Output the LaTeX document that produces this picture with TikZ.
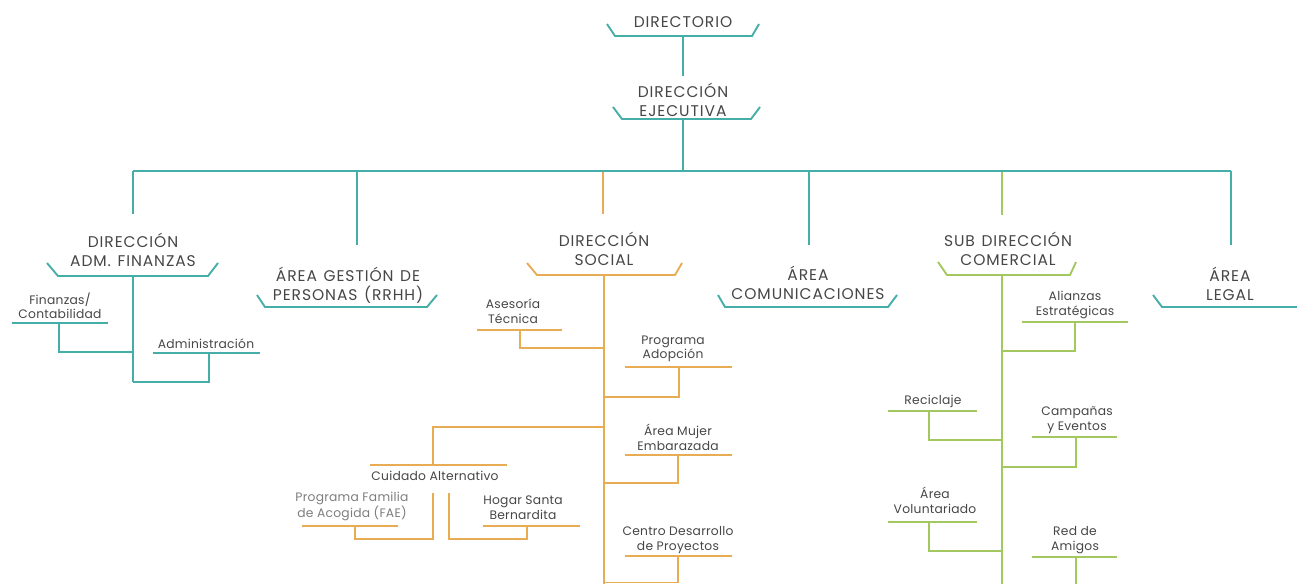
\documentclass[tikz,border=0pt]{standalone}
\usepackage{fontspec}
\setmainfont{Poppins}
\newfontfamily\bigf[LetterSpace=6,WordSpace=1.3]{Poppins}
\newfontfamily\smallf[LetterSpace=2]{Poppins}
\definecolor{tealc}{RGB}{70,174,169}
\definecolor{orangec}{RGB}{232,172,84}
\definecolor{greenc}{RGB}{163,200,96}
\definecolor{txt}{RGB}{70,70,70}
\definecolor{faegray}{RGB}{125,125,125}
\tikzset{
  tl/.style={draw=tealc, line width=1.9pt},
  ol/.style={draw=orangec, line width=1.9pt},
  gl/.style={draw=greenc, line width=1.9pt},
  bigtxt/.style={align=center, inner sep=0pt, text=txt,
    font=\bigf\fontsize{15.5}{19}\selectfont,
    execute at begin node={\rule{0pt}{14.5pt}},
    execute at end node={\rule[-3.6pt]{0pt}{3.6pt}}},
  smalltxt/.style={align=center, inner sep=0pt, text=txt,
    font=\smallf\fontsize{12.3}{14.5}\selectfont,
    execute at begin node={\rule{0pt}{10.5pt}},
    execute at end node={\rule[-3pt]{0pt}{3pt}}},
}
\begin{document}
\begin{tikzpicture}[x=1pt,y=-1pt]
\useasboundingbox (0,0) rectangle (1297,583);
\clip (0,0) rectangle (1297,583);

% ---------- texts ----------
\node[bigtxt] (dir) at (683,22) {DIRECTORIO};
\node[bigtxt] (ej) at (683,101.5) {DIRECCIÓN\\EJECUTIVA};
\node[bigtxt] (adm) at (133,251.5) {DIRECCIÓN\\ADM. FINANZAS};
\node[bigtxt] (rrhh) at (348,286) {ÁREA GESTIÓN DE\\PERSONAS (RRHH)};
\node[bigtxt] (soc) at (604,251) {DIRECCIÓN\\SOCIAL};
\node[bigtxt] (com) at (808,284.5) {ÁREA\\COMUNICACIONES};
\node[bigtxt] (sub) at (1008,251) {SUB DIRECCIÓN\\COMERCIAL};
\node[bigtxt] (leg) at (1230,286) {ÁREA\\LEGAL};

\node[smalltxt] (fin) at (60,307) {Finanzas/\\Contabilidad};
\node[smalltxt] (admi) at (206,345) {Administración};
\node[smalltxt] (ases) at (513,312.5) {Asesoría\\Técnica};
\node[smalltxt] (adop) at (673,349) {Programa\\Adopción};
\node[smalltxt] (cuid) at (435,477) {Cuidado Alternativo};
\node[smalltxt] (muj) at (678,439) {Área Mujer\\Embarazada};
\node[smalltxt, text=faegray] (fae) at (352,506.5) {Programa Familia\\de Acogida (FAE)};
\node[smalltxt] (hog) at (523,509) {Hogar Santa\\Bernardita};
\node[smalltxt] (cdp) at (678,540) {Centro Desarrollo\\de Proyectos};
\node[smalltxt] (ali) at (1075,305) {Alianzas\\Estratégicas};
\node[smalltxt] (rec) at (933,401) {Reciclaje};
\node[smalltxt] (cam) at (1077,420) {Campañas\\y Eventos};
\node[smalltxt] (vol) at (935,502) {Área\\Voluntariado};
\node[smalltxt] (red) at (1075,540) {Red de\\Amigos};

% ---------- brackets ----------
\draw[tl] (607,24) -- (615,36) -- (752,36) -- (759,24);
\draw[tl] (613,107) -- (622,119) -- (751,119) -- (760,107);
\draw[tl] (47,263) -- (58,276) -- (208,276) -- (218,263);
\draw[tl] (257,295) -- (265,307) -- (427,307) -- (437,295);
\draw[tl] (718,295) -- (725,307) -- (888,307) -- (897,295);
\draw[tl] (1153,295) -- (1162,307) -- (1300,307);
\draw[ol] (527,263) -- (537,275) -- (675,275) -- (682,263);
\draw[gl] (938,262) -- (947,275) -- (1070,275) -- (1076,262);

% ---------- coordinates ----------
\coordinate (dirB) at (683,36);
\coordinate (ejT) at (683,76);
\coordinate (ejB) at (683,119);
\coordinate (ejBus) at (683,171);
\coordinate (busL) at (133,171);
\coordinate (busR) at (1231,171);
\coordinate (bRrhh) at (357,171);
\coordinate (bSoc) at (603,172);
\coordinate (bCom) at (809,171);
\coordinate (bSub) at (1002,172);
\coordinate (admT) at (133,214);
\coordinate (rrhhT) at (357,245);
\coordinate (socT) at (603,214);
\coordinate (comT) at (809,245);
\coordinate (subT) at (1002,215);
\coordinate (legT) at (1231,245);

% ---------- top connectors ----------
\draw[tl] (dirB) -- (ejT);
\draw[tl] (ejB) -- (ejBus);
\draw[ol] (bSoc) -- (socT);
\draw[gl] (bSub) -- (subT);
\draw[tl] (busL) -- (busR);
\draw[tl] (busL) -- (admT);
\draw[tl] (bRrhh) -- (rrhhT);
\draw[tl] (bCom) -- (comT);
\draw[tl] (busR) -- (legT);

% ---------- ADM. FINANZAS branch ----------
\coordinate (admB) at (133,276);
\coordinate (admE) at (133,382);
\coordinate (finU) at (59,323);
\coordinate (admiU) at (209,353);
\draw[tl] (admB) -- (admE);
\draw[tl] (12,323) -- (108,323);
\draw[tl] (finU) |- (133,352);
\draw[tl] (153,353) -- (260,353);
\draw[tl] (admiU) |- (admE);

% ---------- SOCIAL branch ----------
\coordinate (socB) at (604,275);
\coordinate (socE) at (604,590);
\draw[ol] (socB) -- (socE);
\draw[ol] (477,330) -- (562,330);
\draw[ol] (520,330) |- (604,348);
\draw[ol] (625,367) -- (732,367);
\draw[ol] (679,367) |- (604,397);
\draw[ol] (604,427) -| (433,465);
\draw[ol] (370,465) -- (507,465);
\draw[ol] (625,455) -- (732,455);
\draw[ol] (678,455) |- (604,483);
\draw[ol] (302,526) -- (398,526);
\draw[ol] (355,526) |- (433,539) -- (433,493);
\draw[ol] (483,526) -- (580,526);
\draw[ol] (527,526) |- (449,539) -- (449,493);
\draw[ol] (625,556) -- (732,556);
\draw[ol] (678,556) |- (604,582.5);

% ---------- COMERCIAL branch ----------
\coordinate (subB) at (1002,275);
\coordinate (subE) at (1002,590);
\draw[gl] (subB) -- (subE);
\draw[gl] (1022,322) -- (1128,322);
\draw[gl] (1075,322) |- (1002,351);
\draw[gl] (888,411) -- (977,411);
\draw[gl] (929,411) |- (1002,440);
\draw[gl] (1032,437) -- (1117,437);
\draw[gl] (1076,437) |- (1002,467);
\draw[gl] (888,522) -- (977,522);
\draw[gl] (929,522) |- (1002,551);
\draw[gl] (1032,557) -- (1117,557);
\draw[gl] (1076,557) -- (1076,590);
\end{tikzpicture}
\end{document}
